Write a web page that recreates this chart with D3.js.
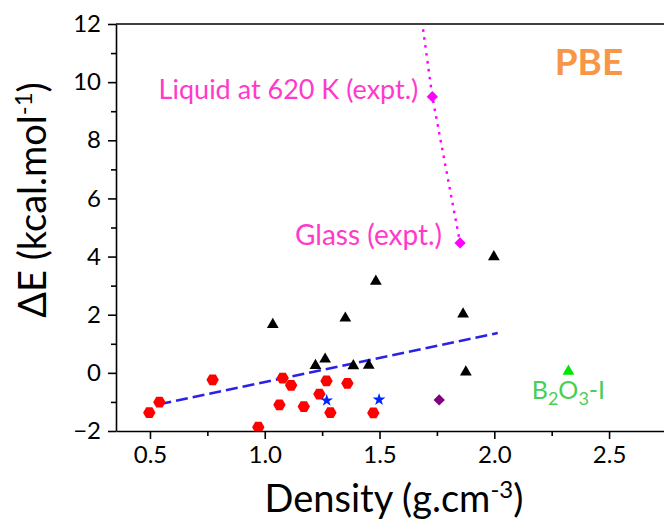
<!DOCTYPE html>
<html>
<head>
<meta charset="utf-8">
<script src="https://cdn.jsdelivr.net/npm/d3@7"></script>
<style>
  html, body { margin: 0; padding: 0; background: #fff; }
  svg { display: block; font-family: Lato, "Open Sans", sans-serif; }
</style>
</head>
<body>
<svg id="chart" width="664" height="525"></svg>
<script>
// ---- data: density (g/cm^3) vs. energy difference (kcal/mol) ----
const hexagonPts = [
  [0.497, -1.37], [0.541, -1.01], [0.773, -0.24], [0.972, -1.87],
  [1.064, -1.10], [1.078, -0.18], [1.115, -0.43], [1.170, -1.16],
  [1.238, -0.73], [1.269, -0.28], [1.286, -1.37], [1.360, -0.36],
  [1.473, -1.38]
];
const trianglePts = [
  [1.035, 1.66], [1.221, 0.25], [1.263, 0.47], [1.351, 1.88],
  [1.386, 0.24], [1.453, 0.26], [1.484, 3.15], [1.998, 3.99],
  [1.864, 2.02], [1.876, 0.03]
];
const starPts = [[1.270, -0.95], [1.498, -0.92]];
const purplePts = [[1.760, -0.93]];
const crystalPts = [[2.323, 0.05]];
// experimental series: hot liquid (off scale), liquid at 620 K, glass
const exptPts = [[1.652, 14.0], [1.730, 9.50], [1.851, 4.47]];
// linear trend through the computed structures
const fitPts = [[0.541, -1.08], [2.015, 1.37]];

const xTicks = [0.5, 1.0, 1.5, 2.0, 2.5];
const xMinor = [0.75, 1.25, 1.75, 2.25, 2.75];
const yTicks = [-2, 0, 2, 4, 6, 8, 10, 12];
const yMinor = [-1, 1, 3, 5, 7, 9, 11];

const svg = d3.select("#chart");
const plotLeft = 116, plotRight = 666, plotTop = 24, plotBottom = 431;

const x = d3.scaleLinear().domain([0.352, 2.748]).range([plotLeft, plotRight]);
const y = d3.scaleLinear().domain([-2, 12]).range([plotBottom, plotTop]);

svg.append("defs").append("clipPath").attr("id", "plotClip")
  .append("rect").attr("x", plotLeft).attr("y", plotTop)
  .attr("width", plotRight - plotLeft).attr("height", plotBottom - plotTop);

// ---- axes ----
const fmt = d3.format(".1f");
const xAxis = svg.append("g").attr("transform", `translate(0,${plotBottom})`)
  .call(d3.axisBottom(x).tickValues(xTicks).tickFormat(fmt).tickSize(8).tickPadding(7).tickSizeOuter(0));
svg.append("g").attr("transform", `translate(0,${plotBottom})`)
  .call(d3.axisBottom(x).tickValues(xMinor).tickFormat("").tickSize(5).tickSizeOuter(0))
  .call(g => g.select(".domain").remove());

const yAxis = svg.append("g").attr("transform", `translate(${plotLeft},0)`)
  .call(d3.axisLeft(y).tickValues(yTicks).tickFormat(d3.format("d")).tickSize(8).tickPadding(7).tickSizeOuter(0));
svg.append("g").attr("transform", `translate(${plotLeft},0)`)
  .call(d3.axisLeft(y).tickValues(yMinor).tickFormat("").tickSize(5).tickSizeOuter(0))
  .call(g => g.select(".domain").remove());

svg.selectAll(".domain, .tick line").attr("stroke", "#000").attr("stroke-width", 1.6);
xAxis.selectAll(".tick text").attr("font-size", 24).attr("fill", "#000")
  .attr("font-family", "Lato, 'Open Sans', sans-serif");
yAxis.selectAll(".tick text").attr("font-size", 24).attr("fill", "#000")
  .attr("font-family", "Lato, 'Open Sans', sans-serif");

// top frame line
svg.append("line").attr("x1", plotLeft).attr("x2", plotRight).attr("y1", plotTop).attr("y2", plotTop)
  .attr("stroke", "#000").attr("stroke-width", 1.6);

// axis titles
const xt = svg.append("text").attr("x", 394).attr("y", 512)
  .attr("text-anchor", "middle").attr("font-size", 38).attr("fill", "#000");
xt.append("tspan").text("Density (g.cm");
xt.append("tspan").attr("dy", -14).attr("font-size", 24).text("-3");
xt.append("tspan").attr("dy", 14).text(")");

const yt = svg.append("text").attr("transform", "translate(46,200) rotate(-90)")
  .attr("text-anchor", "middle").attr("font-size", 38).attr("fill", "#000");
yt.append("tspan").text("ΔE (kcal.mol");
yt.append("tspan").attr("dy", -14).attr("font-size", 24).text("-1");
yt.append("tspan").attr("dy", 14).text(")");

// ---- marks ----
const plot = svg.append("g").attr("clip-path", "url(#plotClip)");

// flat-topped hexagon symbol
const hexagon = {
  draw(ctx, size) {
    const r = Math.sqrt(size * 2 / (3 * Math.sqrt(3)));
    for (let i = 0; i < 6; i++) {
      const a = Math.PI / 3 * i;
      const px = r * Math.cos(a), py = r * Math.sin(a);
      if (i === 0) ctx.moveTo(px, py); else ctx.lineTo(px, py);
    }
    ctx.closePath();
  }
};
// square standing on its corner
const diamond = {
  draw(ctx, size) {
    const h = Math.sqrt(size / 2);
    ctx.moveTo(0, -h); ctx.lineTo(h, 0); ctx.lineTo(0, h); ctx.lineTo(-h, 0); ctx.closePath();
  }
};

const line = d3.line().x(d => x(d[0])).y(d => y(d[1]));

plot.append("path").datum(fitPts).attr("d", line)
  .attr("fill", "none").attr("stroke", "#2b22e6").attr("stroke-width", 2.7)
  .attr("stroke-dasharray", "12 5");

plot.append("path").datum(exptPts).attr("d", line)
  .attr("fill", "none").attr("stroke", "#ff00ff").attr("stroke-width", 2.4)
  .attr("stroke-dasharray", "2.6 5.4");

function drawSymbols(pts, type, size, color) {
  plot.append("g").selectAll("path").data(pts).join("path")
    .attr("transform", d => `translate(${x(d[0])},${y(d[1])})`)
    .attr("d", d3.symbol().type(type).size(size)())
    .attr("fill", color);
}
drawSymbols(hexagonPts, hexagon, 100, "#ff0000");
drawSymbols(trianglePts, d3.symbolTriangle, 60, "#000000");
drawSymbols(starPts, d3.symbolStar, 50, "#0022ff");
drawSymbols(purplePts, diamond, 64, "#800080");
drawSymbols(crystalPts, d3.symbolTriangle, 60, "#00e600");
drawSymbols(exptPts, diamond, 64, "#ff00ff");

// ---- annotations ----
const pink = "#ff3acb";
svg.append("text").attr("x", x(exptPts[1][0]) - 14).attr("y", y(exptPts[1][1]) + 2)
  .attr("text-anchor", "end").attr("font-size", 27).attr("fill", pink)
  .text("Liquid at 620 K (expt.)");
svg.append("text").attr("x", x(exptPts[2][0]) - 18).attr("y", y(exptPts[2][1]) + 2)
  .attr("text-anchor", "end").attr("font-size", 28).attr("fill", pink)
  .text("Glass (expt.)");

const bt = svg.append("text").attr("x", x(crystalPts[0][0])).attr("y", y(crystalPts[0][1]) + 28)
  .attr("text-anchor", "middle").attr("font-size", 25).attr("fill", "#47cf55");
bt.append("tspan").text("B");
bt.append("tspan").attr("dy", 6).attr("font-size", 18).text("2");
bt.append("tspan").attr("dy", -6).text("O");
bt.append("tspan").attr("dy", 6).attr("font-size", 18).text("3");
bt.append("tspan").attr("dy", -6).text("-I");

svg.append("text").attr("x", 589).attr("y", 75).attr("text-anchor", "middle")
  .attr("font-size", 37).attr("font-weight", "bold").attr("fill", "#f79646")
  .text("PBE");
</script>
</body>
</html>
